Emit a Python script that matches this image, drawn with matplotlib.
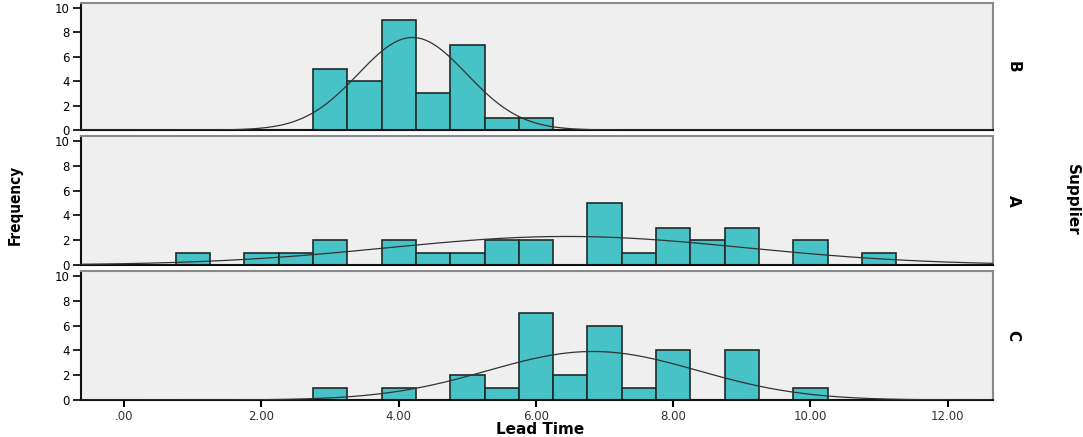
import numpy as np
import matplotlib.pyplot as plt

# bin centres (width 0.5) and counts per supplier
bin_width = 0.5
suppliers = ['B', 'A', 'C']
centres_B = [3.0, 3.5, 4.0, 4.5, 5.0, 5.5, 6.0]
counts_B = [5, 4, 9, 3, 7, 1, 1]
centres_A = [1.0, 2.0, 2.5, 3.0, 4.0, 4.5, 5.0, 5.5, 6.0, 7.0, 7.5, 8.0, 8.5, 9.0, 10.0, 11.0]
counts_A = [1, 1, 1, 2, 2, 1, 1, 2, 2, 5, 1, 3, 2, 3, 2, 1]
centres_C = [3.0, 4.0, 5.0, 5.5, 6.0, 6.5, 7.0, 7.5, 8.0, 9.0, 10.0]
counts_C = [1, 1, 2, 1, 7, 2, 6, 1, 4, 4, 1]
# fitted normal curve parameters
mean_B, sd_B = 4.2, 0.79
mean_A, sd_A = 6.45, 2.6
mean_C, sd_C = 6.83, 1.53

xticks = [0, 2, 4, 6, 8, 10, 12]
xticklabels = ['.00', '2.00', '4.00', '6.00', '8.00', '10.00', '12.00']
yticks = [0, 2, 4, 6, 8, 10]

panels = [
    (centres_B, counts_B, mean_B, sd_B),
    (centres_A, counts_A, mean_A, sd_A),
    (centres_C, counts_C, mean_C, sd_C),
]

W, H = 1083, 437
fig = plt.figure(figsize=(W / 100, H / 100), dpi=100)
left, right = 81, 993
tops = [3, 136, 271]
bottoms = [130, 265, 400]
xlim = (-0.63, 12.66)
grid = np.linspace(xlim[0], xlim[1], 400)

for i, (c, n, mu, sd) in enumerate(panels):
    ax = fig.add_axes([left / W, 1 - bottoms[i] / H, (right - left) / W, (bottoms[i] - tops[i]) / H])
    ax.set_facecolor('#efefef')
    ax.bar(c, n, width=bin_width, color='#47c2c6', edgecolor='#1e2b2b', linewidth=1.2, zorder=2)
    total = sum(n)
    curve = total * bin_width * np.exp(-0.5 * ((grid - mu) / sd) ** 2) / (sd * np.sqrt(2 * np.pi))
    ax.plot(grid, curve, color='#333333', linewidth=0.9, zorder=3)
    ax.set_xlim(*xlim)
    ax.set_ylim(0, 10.4)
    ax.set_yticks(yticks)
    ax.set_yticklabels([str(v) for v in yticks], fontsize=8.5)
    ax.tick_params(axis='y', direction='out', length=6, width=1.2, pad=2)
    ax.set_xticks(xticks)
    if i == 2:
        ax.set_xticklabels(xticklabels, fontsize=8.5, color='#333333')
        ax.tick_params(axis='x', direction='out', length=5, width=1.5, pad=2)
    else:
        ax.tick_params(axis='x', length=0, labelbottom=False)
    for s in ['top', 'right']:
        ax.spines[s].set_color('#8a8a8a')
        ax.spines[s].set_linewidth(1.5)
    for s in ['left', 'bottom']:
        ax.spines[s].set_color('#111111')
        ax.spines[s].set_linewidth(1.5)
    ax.text(1.022, 0.5, suppliers[i], transform=ax.transAxes, rotation=-90,
            ha='center', va='center', fontsize=11, fontweight='bold')

fig.text(15 / W, 1 - 205 / H, 'Frequency', rotation=90, ha='center', va='center',
         fontsize=11, fontweight='bold', fontstretch='condensed')
fig.text(1072 / W, 1 - 200 / H, 'Supplier', rotation=-90, ha='center', va='center',
         fontsize=11, fontweight='bold')
fig.text(540 / W, 1 - 429 / H, 'Lead Time', ha='center', va='center',
         fontsize=11, fontweight='bold')

fig.savefig('out.png', dpi=100)
